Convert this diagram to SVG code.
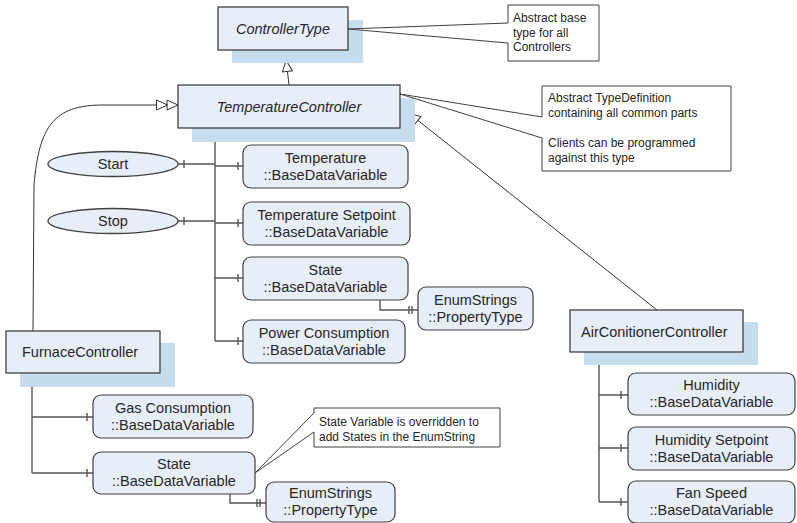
<svg xmlns="http://www.w3.org/2000/svg" width="797" height="523" viewBox="0 0 797 523">
<defs>
<style>
text{font-family:"Liberation Sans",Arial,sans-serif;fill:#262626}
.t{font-size:14.5px;text-anchor:middle}
.i{font-style:italic}
.n{font-size:12px}
.box{fill:#E8EEF7;stroke:#404040;stroke-width:1.3}
.sh{fill:#C6DDEE}
.var{fill:#E8EEF7;stroke:#404040;stroke-width:1.2}
.note{fill:#fff;stroke:#404040;stroke-width:1}
.ln{fill:none;stroke:#333;stroke-width:1}
.tr{fill:none;stroke:#555;stroke-width:1.4}
</style>
<marker id="gen" markerUnits="userSpaceOnUse" viewBox="0 0 24 12" markerWidth="24" markerHeight="12" refX="22.5" refY="6" orient="auto">
<path d="M1,1 L12,6 L1,11 Z M11.5,1 L22.5,6 L11.5,11 Z" fill="#fff" stroke="#333" stroke-width="1"/>
</marker>
</defs>
<rect width="797" height="523" fill="#fff"/>

<g id="connectors">
<path class="ln" d="M289,85 L285,50" marker-end="url(#gen)"/>
<path class="ln" d="M657,310 L401,107" marker-end="url(#gen)"/>
<path class="ln" d="M33,331 L34,185 C39,125 55,106 100,105 L178,105" marker-end="url(#gen)"/>
<path class="tr" d="M215,128 L215,341 M215,166 L243,166 M215,223 L243,223 M215,278 L243,278 M215,341 L243,341 M178,164 L215,164 M178,221 L215,221"/>
<path class="tr" d="M238,162 V170 M238,219 V227 M238,274 V282 M238,337 V345 M184,160 V168 M184,217 V225"/>
<path class="tr" d="M380,300 L380,310 L418,310 M409,306 V314 M412,306 V314"/>
<path class="tr" d="M32,373 L32,473 M32,417 L93,417 M32,473 L93,473 M87,413 V421 M87,469 V477"/>
<path class="tr" d="M230,494 L230,503 L266,503 M257,499 V507 M260,499 V507"/>
<path class="tr" d="M599,352 L599,502 M599,395 L628,395 M599,448 L628,448 M599,502 L628,502 M621,391 V399 M621,444 V452 M621,498 V506"/>
</g>

<g id="ControllerType">
<rect class="sh" x="232" y="20" width="131" height="43"/>
<rect class="box" x="218" y="7" width="130" height="43"/>
<text class="t i" x="283" y="34">ControllerType</text>
</g>

<g id="TemperatureController">
<rect class="sh" x="192" y="98" width="223" height="44"/>
<rect class="box" x="178" y="85" width="222" height="43"/>
<text class="t i" x="289" y="112">TemperatureController</text>
</g>

<g id="FurnaceController">
<rect class="sh" x="20" y="343" width="155" height="44"/>
<rect class="box" x="6" y="331" width="154" height="42"/>
<text class="t" x="22" y="357" style="text-anchor:start">FurnaceController</text>
</g>

<g id="AirConitionerController">
<rect class="sh" x="584" y="322" width="174" height="43"/>
<rect class="box" x="570" y="310" width="173" height="42"/>
<text class="t" x="581" y="337" style="text-anchor:start">AirConitionerController</text>
</g>

<g id="note1">
<path class="note" d="M508,23 L348,29 L508,43 L508,61 L599,61 L599,5 L508,5 Z"/>
<text class="n" x="513" y="22">Abstract base</text>
<text class="n" x="513" y="37">type for all</text>
<text class="n" x="513" y="51">Controllers</text>
</g>

<g id="note2">
<path class="note" d="M542,117 L400,94 L542,138 L542,171 L731,171 L731,86 L542,86 Z"/>
<text class="n" x="548" y="102">Abstract TypeDefinition</text>
<text class="n" x="548" y="117">containing all common parts</text>
<text class="n" x="548" y="147">Clients can be programmed</text>
<text class="n" x="548" y="162">against this type</text>
</g>

<g id="note3">
<path class="note" d="M314,413 L255,473 L314,432 L314,447 L500,447 L500,408 L314,408 Z"/>
<text class="n" x="319" y="426">State Variable is overridden to</text>
<text class="n" x="319" y="441">add States in the EnumString</text>
</g>

<g id="Start">
<ellipse class="box" cx="113" cy="164" rx="65" ry="12.5"/>
<text class="t" x="113" y="169">Start</text>
</g>
<g id="Stop">
<ellipse class="box" cx="113" cy="221" rx="65" ry="12.5"/>
<text class="t" x="113" y="226">Stop</text>
</g>

<g id="Temperature">
<rect class="var" x="243" y="145" width="165" height="43" rx="8"/>
<text class="t" x="325.5" y="163">Temperature</text>
<text class="t" x="325.5" y="180">::BaseDataVariable</text>
</g>
<g id="TemperatureSetpoint">
<rect class="var" x="243" y="202" width="167" height="43" rx="8"/>
<text class="t" x="326.5" y="220">Temperature Setpoint</text>
<text class="t" x="326.5" y="237">::BaseDataVariable</text>
</g>
<g id="State1">
<rect class="var" x="243" y="257" width="165" height="43" rx="8"/>
<text class="t" x="325.5" y="275">State</text>
<text class="t" x="325.5" y="292">::BaseDataVariable</text>
</g>
<g id="PowerConsumption">
<rect class="var" x="243" y="320" width="162" height="43" rx="8"/>
<text class="t" x="324" y="338">Power Consumption</text>
<text class="t" x="324" y="355">::BaseDataVariable</text>
</g>
<g id="EnumStrings1">
<rect class="var" x="418" y="287" width="115" height="43" rx="8"/>
<text class="t" x="475.5" y="305">EnumStrings</text>
<text class="t" x="475.5" y="322">::PropertyType</text>
</g>
<g id="GasConsumption">
<rect class="var" x="93" y="395" width="160" height="43" rx="8"/>
<text class="t" x="173" y="413">Gas Consumption</text>
<text class="t" x="173" y="430">::BaseDataVariable</text>
</g>
<g id="State2">
<rect class="var" x="93" y="452" width="162" height="42" rx="8"/>
<text class="t" x="174" y="469">State</text>
<text class="t" x="174" y="486">::BaseDataVariable</text>
</g>
<g id="EnumStrings2">
<rect class="var" x="266" y="482" width="129" height="40" rx="8"/>
<text class="t" x="330.5" y="498">EnumStrings</text>
<text class="t" x="330.5" y="515">::PropertyType</text>
</g>
<g id="Humidity">
<rect class="var" x="628" y="373" width="167" height="42" rx="8"/>
<text class="t" x="711.5" y="390">Humidity</text>
<text class="t" x="711.5" y="407">::BaseDataVariable</text>
</g>
<g id="HumiditySetpoint">
<rect class="var" x="628" y="427" width="167" height="43" rx="8"/>
<text class="t" x="711.5" y="445">Humidity Setpoint</text>
<text class="t" x="711.5" y="462">::BaseDataVariable</text>
</g>
<g id="FanSpeed">
<rect class="var" x="628" y="481" width="167" height="42" rx="8"/>
<text class="t" x="711.5" y="498">Fan Speed</text>
<text class="t" x="711.5" y="515">::BaseDataVariable</text>
</g>
</svg>
